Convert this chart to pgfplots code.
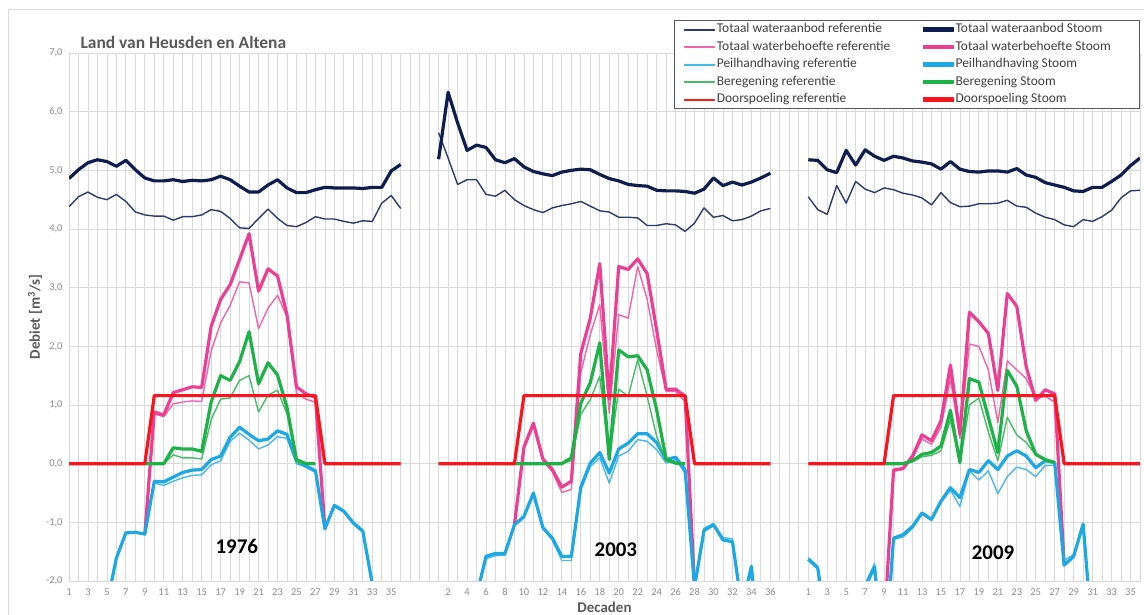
\documentclass[border=0pt]{standalone}
\usepackage{pgfplots}
\pgfplotsset{compat=1.18}
\usepackage{pgfplotstable}
\usepackage{fontspec}
\setmainfont{Carlito}
\definecolor{navyS}{RGB}{13,30,78}
\definecolor{navyR}{RGB}{45,58,110}
\definecolor{pinkS}{RGB}{236,62,146}
\definecolor{pinkR}{RGB}{240,100,170}
\definecolor{blueS}{RGB}{28,168,228}
\definecolor{blueR}{RGB}{70,185,235}
\definecolor{greenS}{RGB}{28,178,72}
\definecolor{greenR}{RGB}{70,190,100}
\definecolor{doorS}{RGB}{250,20,30}
\definecolor{doorR}{HTML}{F53232}
\definecolor{gridc}{RGB}{217,217,217}
\definecolor{ticktext}{RGB}{140,140,140}
\definecolor{titletext}{RGB}{89,89,89}
\definecolor{legtext}{RGB}{64,64,64}

% c = global category (panel 1: decade, panel 2: decade+39, panel 3: decade+78)
\pgfplotstableread{
c aR aS bR bS pR pS gR gS dR dS
1 4.38 4.86 nan nan -3.5 -3.5 nan nan 0 0
2 4.55 5.01 nan nan -3.5 -3.5 nan nan 0 0
3 4.63 5.13 nan nan -3.5 -3.5 nan nan 0 0
4 4.54 5.18 nan nan -3.5 -3.5 nan nan 0 0
5 4.50 5.15 nan nan -2.45 -2.40 nan nan 0 0
6 4.59 5.07 nan nan -1.63 -1.61 nan nan 0 0
7 4.47 5.17 nan nan -1.19 -1.18 nan nan 0 0
8 4.29 5.01 nan nan -1.18 -1.17 nan nan 0 0
9 4.24 4.87 -1.21 -1.20 -1.21 -1.20 0 0 0 0
10 4.22 4.82 0.85 0.88 -0.33 -0.30 0 0 1.16 1.16
11 4.22 4.82 0.80 0.83 -0.37 -0.31 0 0 1.16 1.16
12 4.15 4.84 1.02 1.21 -0.30 -0.23 0.15 0.27 1.16 1.16
13 4.21 4.81 1.05 1.26 -0.24 -0.15 0.10 0.25 1.16 1.16
14 4.21 4.83 1.07 1.31 -0.20 -0.11 0.10 0.25 1.16 1.16
15 4.24 4.82 1.06 1.30 -0.19 -0.10 0.08 0.21 1.16 1.16
16 4.33 4.84 1.92 2.34 -0.02 0.07 0.75 1.05 1.16 1.16
17 4.30 4.90 2.40 2.80 0.05 0.13 1.10 1.50 1.16 1.16
18 4.18 4.84 2.70 3.05 0.38 0.45 1.12 1.42 1.16 1.16
19 4.02 4.73 3.10 3.48 0.52 0.62 1.42 1.74 1.16 1.16
20 4.01 4.63 3.08 3.92 0.40 0.50 1.50 2.25 1.16 1.16
21 4.18 4.63 2.30 2.94 0.25 0.39 0.88 1.36 1.16 1.16
22 4.34 4.75 2.65 3.32 0.32 0.42 1.17 1.72 1.16 1.16
23 4.18 4.84 2.87 3.20 0.46 0.56 1.25 1.51 1.16 1.16
24 4.06 4.70 2.50 2.54 0.43 0.50 0.85 0.96 1.16 1.16
25 4.04 4.62 1.20 1.31 0.00 0.05 0.02 0.07 1.16 1.16
26 4.11 4.62 1.10 1.19 -0.06 -0.04 0 0 1.16 1.16
27 4.21 4.67 1.05 1.13 -0.15 -0.12 0 0 1.16 1.16
28 4.17 4.71 -1.12 -1.11 -1.12 -1.11 nan nan 0 0
29 4.17 4.70 nan nan -0.73 -0.71 nan nan 0 0
30 4.13 4.70 nan nan -0.83 -0.81 nan nan 0 0
31 4.10 4.70 nan nan -1.03 -1.01 nan nan 0 0
32 4.14 4.69 nan nan -1.17 -1.15 nan nan 0 0
33 4.13 4.71 nan nan -2.05 -2.05 nan nan 0 0
34 4.44 4.71 nan nan -3.5 -3.5 nan nan 0 0
35 4.57 4.99 nan nan -3.5 -3.5 nan nan 0 0
36 4.35 5.10 nan nan -3.5 -3.5 nan nan 0 0
37 nan nan nan nan nan nan nan nan nan nan
40 5.64 5.19 nan nan -3.5 -3.5 nan nan 0 0
41 5.21 6.33 nan nan -3.5 -3.5 nan nan 0 0
42 4.76 5.81 nan nan -3.5 -3.5 nan nan 0 0
43 4.84 5.34 nan nan -3.5 -3.5 nan nan 0 0
44 4.84 5.43 nan nan -2.30 -2.25 nan nan 0 0
45 4.59 5.39 nan nan -1.62 -1.58 nan nan 0 0
46 4.56 5.18 nan nan -1.57 -1.53 nan nan 0 0
47 4.66 5.13 nan nan -1.56 -1.53 nan nan 0 0
48 4.50 5.20 -1.06 -1.04 -1.06 -1.04 0 0 0 0
49 4.40 5.06 0.25 0.28 -0.92 -0.90 0 0 1.16 1.16
50 4.33 4.98 0.64 0.69 -0.52 -0.50 0 0 1.16 1.16
51 4.28 4.94 0.05 0.08 -1.11 -1.09 0 0 1.16 1.16
52 4.36 4.91 -0.14 -0.10 -1.30 -1.27 0 0 1.16 1.16
53 4.40 4.97 -0.49 -0.40 -1.65 -1.58 0 0 1.16 1.16
54 4.43 5.00 -0.44 -0.30 -1.65 -1.58 0.05 0.10 1.16 1.16
55 4.47 5.02 1.55 1.88 -0.45 -0.40 0.84 1.03 1.16 1.16
56 4.39 5.01 2.20 2.48 -0.05 0.01 1.09 1.38 1.16 1.16
57 4.31 4.93 2.71 3.41 0.10 0.19 1.49 2.06 1.16 1.16
58 4.29 4.86 0.86 1.10 -0.33 -0.16 0.07 0.07 1.16 1.16
59 4.20 4.82 2.54 3.36 0.13 0.25 1.27 1.94 1.16 1.16
60 4.20 4.76 2.48 3.31 0.21 0.35 1.15 1.82 1.16 1.16
61 4.19 4.74 3.36 3.49 0.41 0.51 1.77 1.84 1.16 1.16
62 4.06 4.73 2.80 3.24 0.38 0.51 1.15 1.60 1.16 1.16
63 4.06 4.66 1.94 2.28 0.24 0.36 0.47 0.92 1.16 1.16
64 4.09 4.65 1.23 1.27 0.01 0.07 0.04 0.08 1.16 1.16
65 4.07 4.65 1.23 1.27 0.07 0.11 0 0.01 1.16 1.16
66 3.96 4.64 1.06 1.15 -0.16 -0.10 0 0 1.16 1.16
67 4.10 4.61 -2.10 -2.10 -2.10 -2.10 nan nan 0 0
68 4.36 4.68 nan nan -1.10 -1.14 nan nan 0 0
69 4.20 4.87 nan nan -1.02 -1.04 nan nan 0 0
70 4.23 4.74 nan nan -1.26 -1.30 nan nan 0 0
71 4.14 4.80 nan nan -1.28 -1.33 nan nan 0 0
72 4.16 4.75 nan nan -2.45 -2.45 nan nan 0 0
73 4.22 4.80 nan nan -1.85 -1.75 nan nan 0 0
74 4.31 4.87 nan nan -3.5 -3.5 nan nan 0 0
75 4.35 4.95 nan nan -3.5 -3.5 nan nan 0 0
76 nan nan nan nan nan nan nan nan nan nan
79 4.55 5.18 nan nan -1.60 -1.63 nan nan 0 0
80 4.33 5.17 nan nan -1.75 -1.78 nan nan 0 0
81 4.25 5.01 nan nan -2.9 -2.9 nan nan 0 0
82 4.74 4.96 nan nan -3.5 -3.5 nan nan 0 0
83 4.44 5.34 nan nan -3.5 -3.5 nan nan 0 0
84 4.81 5.09 nan nan -3.5 -3.5 nan nan 0 0
85 4.68 5.35 nan nan -2.05 -2.10 nan nan 0 0
86 4.62 5.24 nan nan -1.70 -1.76 nan nan 0 0
87 4.70 5.17 -2.8 -2.8 -3.5 -3.5 0 0 0 0
88 4.67 5.24 -0.13 -0.11 -1.29 -1.27 0 0 1.16 1.16
89 4.61 5.21 -0.10 -0.08 -1.25 -1.21 0 0 1.16 1.16
90 4.58 5.16 0.09 0.13 -1.10 -1.07 0.03 0.05 1.16 1.16
91 4.53 5.14 0.42 0.49 -0.86 -0.84 0.12 0.16 1.16 1.16
92 4.41 5.11 0.33 0.39 -0.97 -0.95 0.14 0.19 1.16 1.16
93 4.62 5.02 0.62 0.73 -0.66 -0.64 0.22 0.30 1.16 1.16
94 4.45 5.15 1.45 1.68 -0.45 -0.41 0.75 0.91 1.16 1.16
95 4.38 5.02 0.43 0.50 -0.73 -0.58 0.00 0.02 1.16 1.16
96 4.39 4.98 2.04 2.58 -0.12 -0.10 1.00 1.45 1.16 1.16
97 4.43 4.97 2.00 2.42 -0.28 -0.15 1.12 1.39 1.16 1.16
98 4.43 4.99 1.60 2.22 -0.12 0.05 0.54 0.79 1.16 1.16
99 4.44 4.99 0.70 1.25 -0.51 -0.10 0.05 0.19 1.16 1.16
100 4.49 4.97 1.75 2.90 -0.22 0.13 0.79 1.59 1.16 1.16
101 4.39 5.03 1.60 2.68 -0.06 0.22 0.49 1.32 1.16 1.16
102 4.37 4.92 1.45 1.65 -0.10 0.13 0.36 0.56 1.16 1.16
103 4.27 4.88 1.10 1.08 -0.22 -0.07 0.15 0.16 1.16 1.16
104 4.20 4.79 1.15 1.26 -0.03 0.05 0.05 0.07 1.16 1.16
105 4.16 4.75 1.05 1.19 -0.03 0.02 0.00 0.02 1.16 1.16
106 4.07 4.71 -1.65 -1.73 -1.65 -1.73 nan nan 0 0
107 4.04 4.65 nan nan -1.55 -1.58 nan nan 0 0
108 4.16 4.64 nan nan -1.03 -1.03 nan nan 0 0
109 4.13 4.71 nan nan -3.0 -3.0 nan nan 0 0
110 4.21 4.71 nan nan -3.5 -3.5 nan nan 0 0
111 4.32 4.81 nan nan -3.5 -3.5 nan nan 0 0
112 4.53 4.92 nan nan -3.5 -3.5 nan nan 0 0
113 4.65 5.08 nan nan -3.5 -3.5 nan nan 0 0
114 4.66 5.21 nan nan -3.5 -3.5 nan nan 0 0
}\data

\begin{document}
\begin{tikzpicture}
\useasboundingbox (0,0) rectangle (1144bp,615bp);
\fill[white] (0,0) rectangle (1144bp,615bp);
\draw[gridc, line width=1bp] (8.5bp,0) -- (8.5bp,605.5bp) -- (1144bp,605.5bp);
\begin{axis}[
  at={(69bp,34bp)}, anchor=south west,
  scale only axis, width=1071bp, height=528bp,
  xmin=1, xmax=114, ymin=-2, ymax=7,
  xtick={1,3,...,35,41,43,...,75,79,81,...,113},
  xticklabels={1,3,5,7,9,11,13,15,17,19,21,23,25,27,29,31,33,35,2,4,6,8,10,12,14,16,18,20,22,24,26,28,30,32,34,36,1,3,5,7,9,11,13,15,17,19,21,23,25,27,29,31,33,35},
  minor xtick={1,...,114},
  ytick={-2,-1,...,7},
  grid=both,
  major grid style={gridc, line width=0.8bp},
  minor grid style={gridc, line width=0.8bp},
  major tick length=0pt, minor tick length=0pt,
  axis line style={gridc, line width=0.8bp},
  tick label style={font=\fontsize{10.5}{12}\selectfont, text=ticktext},
  /pgf/number format/assume math mode=true,
  yticklabel style={xshift=-3bp, /pgf/number format/.cd, fixed, fixed zerofill, precision=1, use comma},
  xticklabel style={yshift=-4bp},
  unbounded coords=jump,
  every axis plot/.append style={line join=round},
  every axis title shift=0pt,
  title={Land van Heusden en Altena},
  title style={at={(0.0075,1.0208)}, anchor=west, font=\fontsize{17.5}{20}\selectfont\bfseries, text=titletext},
  xlabel={Decaden},
  xlabel style={at={(0.5,-0.034)}, anchor=north, font=\fontsize{15}{17}\selectfont\bfseries, text=titletext},
  ylabel={Debiet [m\textsuperscript{3}/s]},
  ylabel style={at={(-0.0317,0.5)}, anchor=center, font=\fontsize{15}{17}\selectfont\bfseries, text=titletext},
  legend columns=2,
  legend cell align=left,
  legend style={at={(1,1.0625)}, anchor=north east, draw=titletext, line width=0.8bp, fill=white,
    inner xsep=10bp, inner ysep=1.75bp, row sep=3bp, text=legtext,
    font=\fontsize{13.5}{15}\selectfont,
    nodes={text height=9.5bp, text depth=3bp, inner ysep=1bp}},
]
\addplot[navyR, line width=1.4bp, forget plot] table[x=c, y=aR]{\data};
\addplot[navyS, line width=3.2bp, forget plot] table[x=c, y=aS]{\data};
\addplot[pinkR, line width=1.4bp, forget plot] table[x=c, y=bR]{\data};
\addplot[pinkS, line width=3.2bp, forget plot] table[x=c, y=bS]{\data};
\addplot[blueR, line width=1.4bp, forget plot] table[x=c, y=pR]{\data};
\addplot[blueS, line width=3.2bp, forget plot] table[x=c, y=pS]{\data};
\addplot[greenR, line width=1.4bp, forget plot] table[x=c, y=gR]{\data};
\addplot[greenS, line width=3.2bp, forget plot] table[x=c, y=gS]{\data};
\addplot[doorR, line width=1.4bp, forget plot] table[x=c, y=dR]{\data};
\addplot[doorS, line width=3.2bp, forget plot] table[x=c, y=dS]{\data};
\addlegendimage{legend image code/.code={\fill[navyR] (0bp,-0.5bp) rectangle (30bp,0.5bp);}}
\addlegendentry{\makebox[204bp][l]{Totaal wateraanbod referentie}}
\addlegendimage{legend image code/.code={\fill[navyS] (0bp,-1.6bp) rectangle (30bp,1.6bp);}}
\addlegendentry{\makebox[172bp][l]{Totaal wateraanbod Stoom}}
\addlegendimage{legend image code/.code={\fill[pinkR] (0bp,-0.5bp) rectangle (30bp,0.5bp);}}
\addlegendentry{Totaal waterbehoefte referentie}
\addlegendimage{legend image code/.code={\fill[pinkS] (0bp,-1.6bp) rectangle (30bp,1.6bp);}}
\addlegendentry{Totaal waterbehoefte Stoom}
\addlegendimage{legend image code/.code={\fill[blueR] (0bp,-0.5bp) rectangle (30bp,0.5bp);}}
\addlegendentry{Peilhandhaving referentie}
\addlegendimage{legend image code/.code={\fill[blueS] (0bp,-1.6bp) rectangle (30bp,1.6bp);}}
\addlegendentry{Peilhandhaving Stoom}
\addlegendimage{legend image code/.code={\fill[greenR] (0bp,-0.5bp) rectangle (30bp,0.5bp);}}
\addlegendentry{Beregening referentie}
\addlegendimage{legend image code/.code={\fill[greenS] (0bp,-1.6bp) rectangle (30bp,1.6bp);}}
\addlegendentry{Beregening Stoom}
\addlegendimage{legend image code/.code={\fill[red!90!white] (0bp,-0.5bp) rectangle (30bp,0.5bp);}}
\addlegendentry{Doorspoeling referentie}
\addlegendimage{legend image code/.code={\fill[doorS] (0bp,-1.6bp) rectangle (30bp,1.6bp);}}
\addlegendentry{Doorspoeling Stoom}
\node[font=\fontsize{21}{24}\selectfont\bfseries] at (axis cs:18.7,-1.41) {1976};
\node[font=\fontsize{21}{24}\selectfont\bfseries] at (axis cs:58.7,-1.47) {2003};
\node[font=\fontsize{21}{24}\selectfont\bfseries] at (axis cs:98.5,-1.52) {2009};
\end{axis}
\end{tikzpicture}
\end{document}
